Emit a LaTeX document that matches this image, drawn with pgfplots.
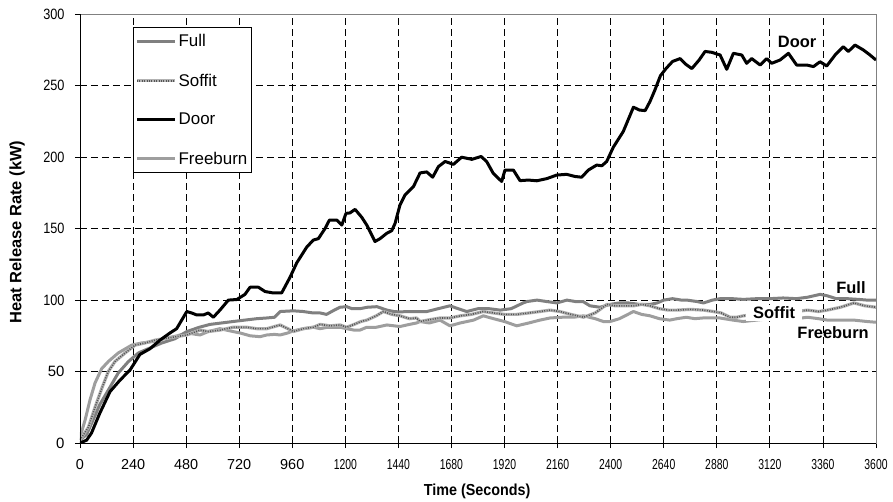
\documentclass[border=0pt]{standalone}
\usepackage{graphicx}
\usepackage{pgfplots}
\pgfplotsset{compat=1.18}
\usepackage{pgfplotstable}
\usepackage{fontspec}
\setmainfont{Liberation Sans}

\definecolor{fullgray}{RGB}{128,128,128}
\definecolor{freegray}{RGB}{158,158,158}
\definecolor{soffbase}{RGB}{178,178,178}
\definecolor{soffdot}{RGB}{85,85,85}
\definecolor{framegray}{RGB}{128,128,128}

% narrow tick labels for the wider numbers
\newcommand\nx[1]{\scalebox{0.72}[1]{#1}}
\newcommand\ny[1]{\scalebox{0.85}[1]{#1}}

% Heat release rate (kW) against time (s)
\pgfplotstableread{
t v
0 0
30 2
52 7
90 21
136 36
181 44
226 51
271 62
317 66
362 72
407 77
437 80
460 86
483 92
505 91
528 89.6
558 89.6
580 91
603 88
633 93
671 100
709 100.4
746 104
769 109
807 109
837 106
874 105
912 105
950 116
980 126
1025 137
1055 142
1078 143
1108 150
1128 156
1161 156
1184 152.5
1203 160.7
1221 161
1244 163.5
1274 158
1297 152.5
1334 141
1357 143
1387 146.7
1410 148.6
1425 153.7
1447 166.5
1470 173.6
1508 179.4
1538 189
1568 189.7
1595 186
1621 193.4
1651 197
1689 195
1726 200
1772 198.5
1814 200.5
1839 197
1869 188.7
1907 183
1922 191
1960 191
1990 183.6
2028 184
2066 183.5
2111 185
2156 187.5
2201 188
2239 186.5
2269 186
2299 191
2337 194.5
2360 194
2382 197
2412 207
2457 218
2503 235
2530 233
2556 232.6
2578 239
2600 247
2625 257
2650 262
2680 267
2714 269
2740 265
2767 262
2800 268
2827 274
2857 273.4
2895 271.5
2925 261.5
2955 272.7
2993 271.5
3015 265.7
3038 269
3076 264.5
3106 269
3128 265.7
3166 268
3204 272.7
3241 264.5
3287 264.5
3317 263.4
3347 266.8
3377 263.8
3415 271.5
3452 277.3
3475 274
3505 278.5
3543 275
3573 271.5
3600 268
}\doortable

\pgfplotstableread{
t v
0 2
30 6
53 14
90 27
128 37
173 49
219 57
264 63
309 66
370 70
430 73
483 78
540 81
588 83
640 84
692 85
745 86
800 87
845 87.5
880 88
905 92
965 92.5
1010 92
1055 91
1086 91
1115 90
1150 93
1176 95
1206 95.4
1230 94
1266 94
1300 95
1343 95.4
1388 93
1420 92
1447 91.7
1478 92
1520 92
1569 92
1620 94
1673 96
1710 94
1749 92
1800 94
1850 94
1900 93
1950 94
2004 98
2022 99
2067 100
2110 99
2157 98
2202 100
2240 99
2275 99
2306 96
2352 95
2397 97
2440 98
2480 98
2530 97
2578 97
2610 98
2640 100
2680 101
2720 100
2745 100
2790 99
2820 98
2860 100
2895 101
2950 101
3000 100.5
3060 101
3120 101
3180 101.5
3240 101
3290 102
3347 104
3380 103
3420 101
3470 101
3520 100.5
3560 100
3600 100
}\fulltable

\pgfplotstableread{
t v
0 2
38 11
68 25
98 38
128 50
158 57
204 63
249 68.5
294 70
340 72
400 73.5
483 75.6
543 79
580 78
633 79
692 81
754 81
800 80
845 80
905 82.6
940 80
965 78
1010 80
1055 81
1086 83
1130 82
1176 82.6
1206 81
1240 83
1270 85
1297 86
1340 89
1372 92
1410 90
1447 89
1490 87
1522 87.5
1538 85
1570 86
1628 87.5
1673 87.5
1720 89
1770 90
1824 92
1870 91
1920 90
1975 90
2030 91
2080 92
2126 93
2170 92
2220 90
2277 88
2330 91
2383 97
2420 96
2460 96
2503 96
2540 97
2578 96
2620 94
2660 93
2700 93
2760 93.5
2820 93
2865 92
2900 91
2940 88
2970 88
3000 89
3060 90
3120 90
3180 91
3240 92
3290 93
3340 92
3380 93
3440 95
3500 98
3550 96
3600 95
}\soffittable

\pgfplotstableread{
t v
0 4
23 16
45 30
68 42
98 52
128 57
173 63
234 68.5
279 70
330 71
380 73
440 75
483 77
543 75.6
580 78
633 80
692 78
724 77
770 75
814 74.4
845 75.6
880 76
905 75.6
940 77
965 78.5
1010 80
1055 81
1086 80
1120 81
1176 81
1206 80
1240 79
1266 79
1297 81
1340 81
1388 82.6
1447 81.5
1490 83
1522 84
1538 85
1580 84
1628 86
1673 82
1720 84
1780 86
1824 89
1870 87
1920 85
1975 82
2030 84
2080 86
2126 87.5
2180 88
2232 88
2277 89
2330 87
2367 85
2397 85
2440 87
2503 92
2540 90
2578 89
2620 87
2667 86
2700 87
2742 88
2780 87
2818 87.5
2893 87.5
2953 86
3000 85
3060 86
3120 87
3180 88
3240 87
3290 88
3340 87
3380 86
3440 86
3500 86
3560 85
3600 84.5
}\freetable

\pgfplotsset{
  soffit legend/.style={
    legend image code/.code={%
      \draw[soffbase, line width=3.2bp, line cap=butt] (0bp,0bp) -- (38bp,0bp);
      \draw[soffdot, line width=1.6bp, dash pattern=on 1bp off 1.4bp, line cap=butt] (0bp,0bp) -- (38bp,0bp);}},
}

\begin{document}
\begin{tikzpicture}
\begin{axis}[
  at={(0,0)}, anchor=south west,
  scale only axis, width=796bp, height=428.7bp,
  xmin=0, xmax=3600, ymin=0, ymax=300,
  xtick={0,240,...,3600}, ytick={0,50,...,300},
  xticklabels={0,240,480,720,960,\nx{1200},\nx{1440},\nx{1680},\nx{1920},\nx{2160},
    \nx{2400},\nx{2640},\nx{2880},\nx{3120},\nx{3360},\nx{3600}},
  yticklabels={0,50,\ny{100},\ny{150},\ny{200},\ny{250},\ny{300}},
  tick pos=left, tick align=outside,
  major tick length=5bp,
  every tick/.style={black, line width=0.8bp},
  grid=major,
  major grid style={black, line width=0.8bp, dash pattern=on 7bp off 4bp},
  axis line style={draw=framegray, line width=0.8bp},
  x tick label style={font=\fontsize{14.5}{16}\selectfont, yshift=-8bp},
  y tick label style={font=\fontsize{15}{17}\selectfont, xshift=-7bp},
  xlabel={\scalebox{0.9}[1]{Time (Seconds)}},
  ylabel={Heat Release Rate (kW)},
  every axis x label/.style={at={(axis description cs:0.499,-0.112)}, anchor=center,
    font=\bfseries\fontsize{16}{18}\selectfont},
  every axis y label/.style={at={(axis description cs:-0.0791,0.492)}, anchor=center,
    rotate=90, font=\bfseries\fontsize{16.5}{18}\selectfont},
  legend style={at={(axis description cs:0.0666,0.970)}, anchor=north west,
    draw=black, line width=0.8bp, fill=white,
    font=\fontsize{17}{20}\selectfont,
    inner xsep=2bp, inner ysep=5bp, row sep=21.5bp,
    nodes={inner sep=2bp}},
  legend cell align=left,
  legend image code/.code={\draw[#1, line cap=butt] (0bp,0bp) -- (38bp,0bp);},
]
\addlegendimage{fullgray, line width=3bp}
\addlegendentry{Full}
\addlegendimage{soffit legend}
\addlegendentry{Soffit}
\addlegendimage{black, line width=3bp}
\addlegendentry{Door}
\addlegendimage{freegray, line width=3bp}
\addlegendentry{Freeburn}

\addplot[forget plot, freegray, line width=3bp, line join=round] table {\freetable};
\addplot[forget plot, fullgray, line width=3bp, line join=round] table {\fulltable};
\addplot[forget plot, soffbase, line width=3.2bp, line join=round] table {\soffittable};
\addplot[forget plot, soffdot, line width=1.6bp, dash pattern=on 1bp off 1.4bp] table {\soffittable};
\addplot[forget plot, black, line width=3bp, line join=round] table {\doortable};

\draw[black, line width=0.8bp] (rel axis cs:0,1) -- (rel axis cs:0,0) -- (rel axis cs:1,0);

\node[font=\bfseries\fontsize{16.5}{18}\selectfont] at (axis cs:3243,281) {Door};
\node[font=\bfseries\fontsize{16.5}{18}\selectfont] at (axis cs:3487,109) {Full};
\node[font=\bfseries\fontsize{16.5}{18}\selectfont] at (axis cs:3406,77) {Freeburn};
\node[fill=white, inner xsep=7bp, inner ysep=2bp, font=\bfseries\fontsize{16.5}{18}\selectfont]
  at (axis cs:3139,91) {Soffit};
\end{axis}
\pgfresetboundingbox
\path[use as bounding box] (-80bp,-59bp) rectangle (813bp,443bp);
\end{tikzpicture}
\end{document}
